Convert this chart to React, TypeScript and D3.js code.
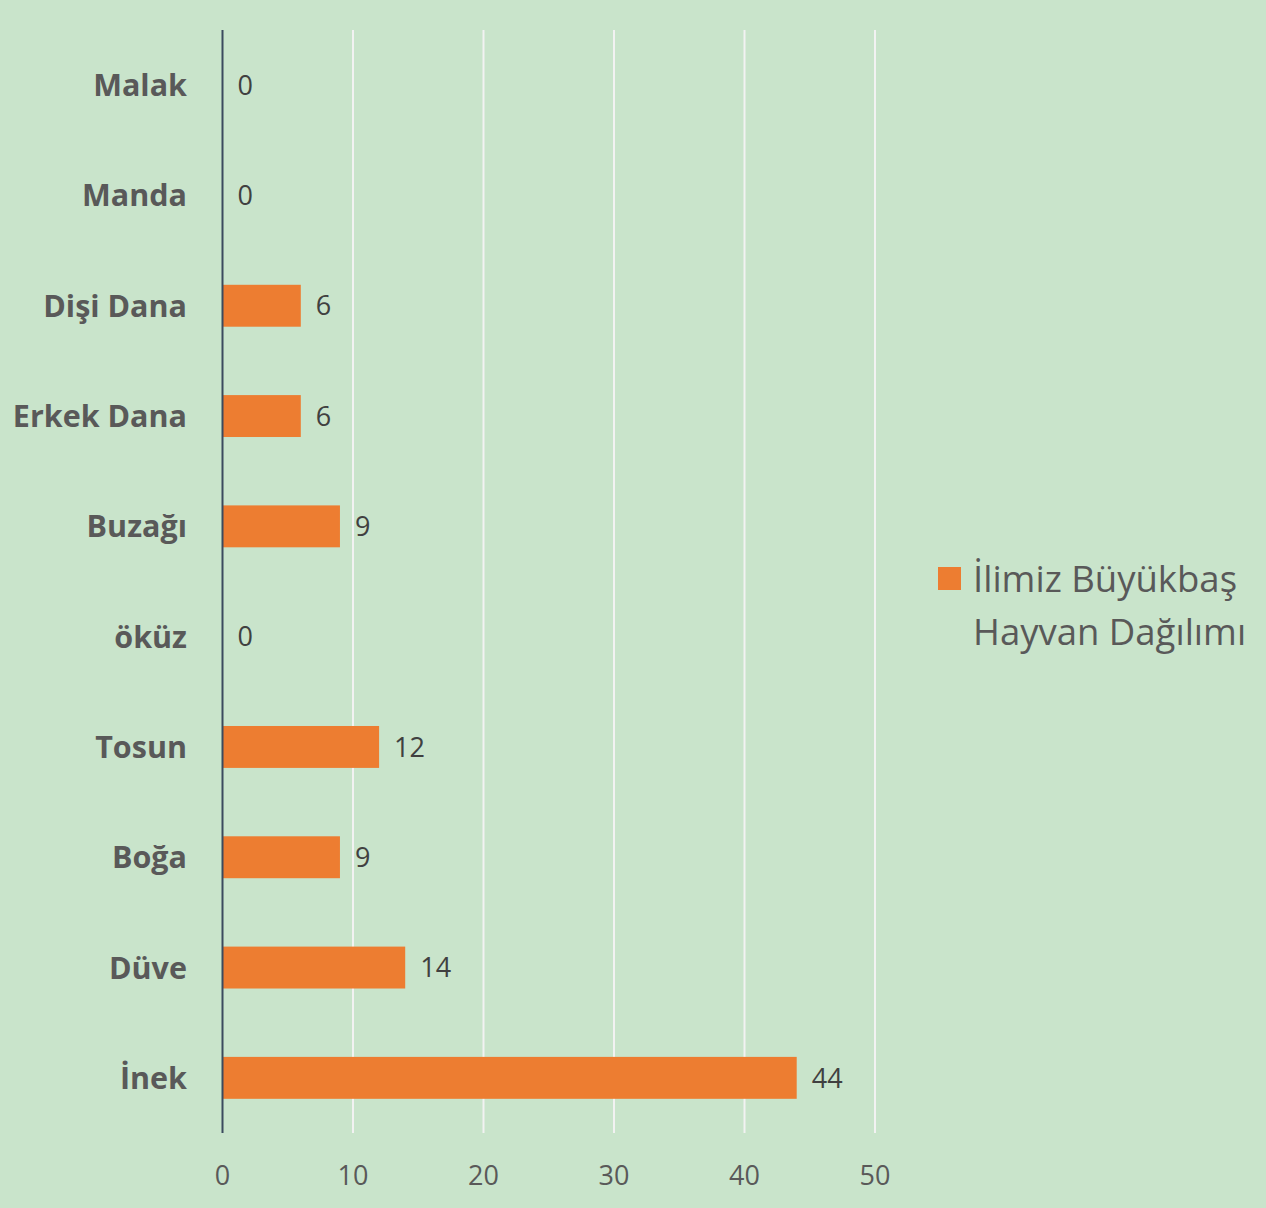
import React, { useEffect, useRef } from "react";
import * as d3 from "d3";

const categories = ["Malak", "Manda", "Dişi Dana", "Erkek Dana", "Buzağı", "öküz", "Tosun", "Boğa", "Düve", "İnek"];
const values = [0, 0, 6, 6, 9, 0, 12, 9, 14, 44];
const ticks = [0, 10, 20, 30, 40, 50];
const legendLines = ["İlimiz Büyükbaş", "Hayvan Dağılımı"];

const App = () => {
  const svgRef = useRef<SVGSVGElement | null>(null);

  useEffect(() => {
    const width = 1266;
    const height = 1208;
    const font = "'Open Sans', sans-serif";

    const svg = d3.select(svgRef.current);
    svg.selectAll("*").remove();
    svg.attr("width", width).attr("height", height);

    svg.append("rect").attr("width", width).attr("height", height).attr("fill", "#c9e4cb");

    const x = d3.scaleLinear().domain([0, 50]).range([222.5, 875]);
    const y = d3.scaleBand().domain(categories).range([30, 1133]).paddingInner(0.62).paddingOuter(0.31);

    // dikey grid çizgileri
    svg
      .selectAll("line.grid")
      .data(ticks.slice(1))
      .enter()
      .append("line")
      .attr("class", "grid")
      .attr("x1", (d) => x(d))
      .attr("x2", (d) => x(d))
      .attr("y1", 30)
      .attr("y2", 1133)
      .attr("stroke", "#f2f2f2")
      .attr("stroke-width", 2);

    svg
      .selectAll("rect.bar")
      .data(values)
      .enter()
      .append("rect")
      .attr("class", "bar")
      .attr("x", x(0))
      .attr("y", (d, i) => y(categories[i])!)
      .attr("width", (d) => x(d) - x(0))
      .attr("height", y.bandwidth())
      .attr("fill", "#ed7d31");

    // eksen çizgisi
    svg
      .append("line")
      .attr("x1", x(0))
      .attr("x2", x(0))
      .attr("y1", 30)
      .attr("y2", 1133)
      .attr("stroke", "#3b4a5e")
      .attr("stroke-width", 2);

    // değer etiketleri
    svg
      .selectAll("text.val")
      .data(values)
      .enter()
      .append("text")
      .attr("class", "val")
      .attr("x", (d) => x(d) + 15)
      .attr("y", (d, i) => y(categories[i])! + y.bandwidth() / 2)
      .attr("dy", "0.36em")
      .attr("font-family", font)
      .attr("font-size", 27)
      .attr("fill", "#404040")
      .text((d) => d);

    // kategori etiketleri
    svg
      .selectAll("text.cat")
      .data(categories)
      .enter()
      .append("text")
      .attr("class", "cat")
      .attr("x", 187)
      .attr("y", (d) => y(d)! + y.bandwidth() / 2)
      .attr("dy", "0.36em")
      .attr("text-anchor", "end")
      .attr("font-family", font)
      .attr("font-weight", "bold")
      .attr("font-size", 30.5)
      .attr("fill", "#595959")
      .text((d) => d);

    // x ekseni etiketleri
    svg
      .selectAll("text.tick")
      .data(ticks)
      .enter()
      .append("text")
      .attr("class", "tick")
      .attr("x", (d) => x(d))
      .attr("y", 1185)
      .attr("text-anchor", "middle")
      .attr("font-family", font)
      .attr("font-size", 27)
      .attr("fill", "#595959")
      .text((d) => d);

    // lejant
    svg.append("rect").attr("x", 938).attr("y", 567).attr("width", 23).attr("height", 23).attr("fill", "#ed7d31");
    svg
      .selectAll("text.legend")
      .data(legendLines)
      .enter()
      .append("text")
      .attr("class", "legend")
      .attr("x", 973)
      .attr("y", (d, i) => 592 + i * 53)
      .attr("font-family", font)
      .attr("font-size", 36.5)
      .attr("fill", "#595959")
      .text((d) => d);
  }, []);

  return <svg ref={svgRef} style={{ display: "block", position: "absolute", left: 0, top: 0 }} />;
};

export default App;
